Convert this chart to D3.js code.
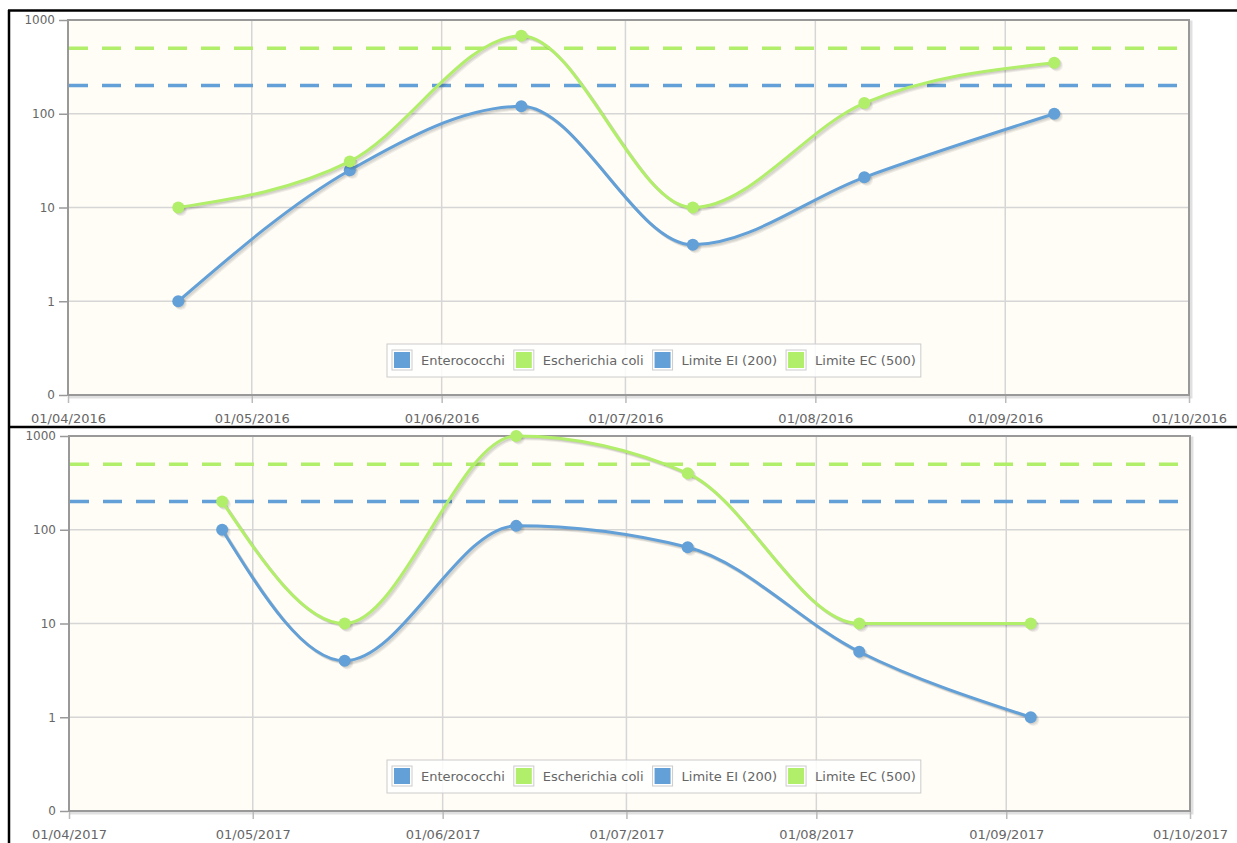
<!DOCTYPE html>
<html>
<head>
<meta charset="utf-8">
<script src="https://cdn.jsdelivr.net/npm/d3@7"></script>
<style>
  body { margin: 0; background: #fff; }
  svg { display: block; font-family: "DejaVu Sans", sans-serif; }
</style>
</head>
<body>
<script>
// sampling dates and values (log scale, "0" tick shown at 0.1)
var dates2016 = ["2016-04-19", "2016-05-17", "2016-06-14", "2016-07-12", "2016-08-09", "2016-09-09"];
var entero2016 = [1, 25, 120, 4, 21, 100];
var ecoli2016 = [10, 31, 680, 10, 130, 350];

var dates2017 = ["2017-04-26", "2017-05-16", "2017-06-13", "2017-07-11", "2017-08-08", "2017-09-05"];
var entero2017 = [100, 4, 110, 65, 5, 1];
var ecoli2017 = [200, 10, 1000, 400, 10, 10];

var limitEI = 200,
    limitEC = 500;

var yTickValues = [0.1, 1, 10, 100, 1000];
var yTickLabels = ["0", "1", "10", "100", "1000"];
var legendLabels = ["Enterococchi", "Escherichia coli", "Limite EI (200)", "Limite EC (500)"];

var blue = "#62a0d7",
    green = "#b1ee6a";

var width = 1237,
    height = 843;

var svg = d3.select("body").append("svg")
    .attr("width", width)
    .attr("height", height);

var parse = d3.timeParse("%Y-%m-%d");

function drawChart(top, left, year, dates, entero, ecoli) {
  var right = left + 1121, plotTop = top, plotBottom = top + 375;

  var x = d3.scaleTime()
      .domain([new Date(year, 3, 1), new Date(year, 9, 1)])
      .range([left, right]);
  var y = d3.scaleLog()
      .domain([0.1, 1000])
      .range([plotBottom, plotTop]);

  var g = svg.append("g");

  // plot background + shadow
  g.append("rect")
    .attr("x", left + 2).attr("y", plotTop + 2)
    .attr("width", right - left).attr("height", plotBottom - plotTop)
    .attr("fill", "none").attr("stroke", "rgba(0,0,0,0.12)").attr("stroke-width", 3);
  g.append("rect")
    .attr("x", left).attr("y", plotTop)
    .attr("width", right - left).attr("height", plotBottom - plotTop)
    .attr("fill", "#fffdf6");

  // grid
  var months = x.ticks(d3.timeMonth.every(1));
  g.selectAll(".vgrid")
    .data(months.slice(1, -1))
    .enter().append("line")
    .attr("x1", function(d) { return x(d); })
    .attr("x2", function(d) { return x(d); })
    .attr("y1", plotTop).attr("y2", plotBottom)
    .attr("stroke", "#d6d6d6").attr("stroke-width", 1.5);
  g.selectAll(".hgrid")
    .data(yTickValues.slice(1, -1))
    .enter().append("line")
    .attr("x1", left).attr("x2", right)
    .attr("y1", function(d) { return y(d); })
    .attr("y2", function(d) { return y(d); })
    .attr("stroke", "#d6d6d6").attr("stroke-width", 1.5);

  // axes
  var yAxis = d3.axisLeft(y)
      .tickValues(yTickValues)
      .tickSize(8)
      .tickPadding(4)
      .tickFormat(function(d, i) { return yTickLabels[i]; });
  var ya = g.append("g").attr("transform", "translate(" + (left - 1) + ",0)").call(yAxis);
  ya.select(".domain").remove();
  ya.selectAll("line").attr("stroke", "#999").attr("stroke-width", 1.5);
  ya.selectAll("text").attr("fill", "#666").style("font-size", "12px")
    .attr("font-family", "DejaVu Sans, sans-serif");

  var xAxis = d3.axisBottom(x)
      .tickValues(months)
      .tickSize(7)
      .tickPadding(11)
      .tickFormat(d3.timeFormat("%d/%m/%Y"));
  var xa = g.append("g").attr("transform", "translate(0," + (plotBottom + 1) + ")").call(xAxis);
  xa.select(".domain").remove();
  xa.selectAll("line").attr("stroke", "#bbb").attr("stroke-width", 1.5);
  xa.selectAll("text").attr("fill", "#666").style("font-size", "13px")
    .attr("font-family", "DejaVu Sans, sans-serif");

  // plot border
  g.append("rect")
    .attr("x", left).attr("y", plotTop)
    .attr("width", right - left).attr("height", plotBottom - plotTop)
    .attr("fill", "none").attr("stroke", "#999").attr("stroke-width", 2);

  // limit lines
  [[limitEC, green], [limitEI, blue]].forEach(function(l) {
    g.append("line")
      .attr("x1", left + 1).attr("x2", right - 1)
      .attr("y1", y(l[0])).attr("y2", y(l[0]))
      .attr("stroke", l[1]).attr("stroke-width", 3.5)
      .attr("stroke-dasharray", "19,14");
  });

  var line = d3.line()
      .x(function(d) { return x(d.date); })
      .y(function(d) { return y(d.value); })
      .curve(d3.curveMonotoneX);

  function series(values, color) {
    var pts = dates.map(function(d, i) { return {date: parse(d), value: values[i]}; });
    [3, 2, 1].forEach(function(o) {
      g.append("path")
        .datum(pts)
        .attr("d", line)
        .attr("transform", "translate(" + o * 0.9 + "," + o * 0.9 + ")")
        .attr("fill", "none")
        .attr("stroke", "rgba(0,0,0,0.07)")
        .attr("stroke-width", 3);
      g.selectAll(null)
        .data(pts)
        .enter().append("circle")
        .attr("cx", function(d) { return x(d.date) + o * 0.9; })
        .attr("cy", function(d) { return y(d.value) + o * 0.9; })
        .attr("r", 6)
        .attr("fill", "rgba(0,0,0,0.06)");
    });
    g.append("path")
      .datum(pts)
      .attr("d", line)
      .attr("fill", "none")
      .attr("stroke", color)
      .attr("stroke-width", 3);
    g.selectAll(null)
      .data(pts)
      .enter().append("circle")
      .attr("cx", function(d) { return x(d.date); })
      .attr("cy", function(d) { return y(d.value); })
      .attr("r", 6)
      .attr("fill", color);
  }
  series(entero, blue);
  series(ecoli, green);

  // legend
  var colors = [blue, green, blue, green];
  var lg = g.append("g");
  var box = lg.append("rect")
    .attr("y", plotTop + 324).attr("height", 33)
    .attr("fill", "#fff").attr("fill-opacity", 0.85)
    .attr("stroke", "#ccc").attr("stroke-width", 1);
  var lx = 394, ly = plotTop + 340;
  legendLabels.forEach(function(name, i) {
    lg.append("rect")
      .attr("x", lx - 2).attr("y", ly - 10)
      .attr("width", 20).attr("height", 20)
      .attr("fill", "#fff").attr("stroke", "#ccc").attr("stroke-width", 1);
    lg.append("rect")
      .attr("x", lx).attr("y", ly - 8)
      .attr("width", 16).attr("height", 16)
      .attr("fill", colors[i]);
    var t = lg.append("text")
      .attr("x", lx + 27).attr("y", ly + 5)
      .attr("fill", "#666").style("font-size", "13px")
      .text(name);
    lx += 27 + t.node().getComputedTextLength() + 11;
  });
  box.attr("x", 387).attr("width", lx - 387 - 6);
}

drawChart(20, 68, 2016, dates2016, entero2016, ecoli2016);
drawChart(436, 69, 2017, dates2017, entero2017, ecoli2017);

// black frame of the screenshot
svg.append("line").attr("x1", 8).attr("x2", width).attr("y1", 10.5).attr("y2", 10.5)
  .attr("stroke", "#000").attr("stroke-width", 2.5);
svg.append("line").attr("x1", 9).attr("x2", 9).attr("y1", 10).attr("y2", height)
  .attr("stroke", "#000").attr("stroke-width", 2.5);
svg.append("line").attr("x1", 8).attr("x2", width).attr("y1", 427).attr("y2", 427)
  .attr("stroke", "#000").attr("stroke-width", 2.5);
</script>
</body>
</html>
